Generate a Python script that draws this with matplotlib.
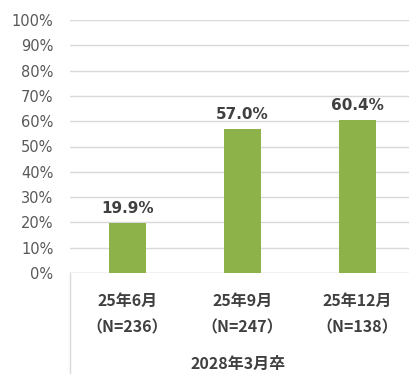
import matplotlib
matplotlib.use("Agg")
import matplotlib.pyplot as plt
from matplotlib.ticker import FuncFormatter
from matplotlib.lines import Line2D

plt.rcParams['font.family'] = ['Noto Sans CJK JP', 'DejaVu Sans']

categories = ["25年6月", "25年9月", "25年12月"]
sample_sizes = ["（N=236）", "（N=247）", "（N=138）"]
group_label = "2028年3月卒"
values = [19.9, 57.0, 60.4]
yticks = [0, 10, 20, 30, 40, 50, 60, 70, 80, 90, 100]

W, H = 409, 374
fig = plt.figure(figsize=(W / 100, H / 100), dpi=100)
left_px, right_px, top_px, bottom_px = 70, 415, 20, 273
ax = fig.add_axes([left_px / W, 1 - bottom_px / H, (right_px - left_px) / W, (bottom_px - top_px) / H])

x = list(range(len(categories)))
bars = ax.bar(x, values, width=0.32, color="#8db24a", zorder=3)
ax.set_xlim(-0.5, 2.5)
ax.set_ylim(0, 100)
ax.set_yticks(yticks)
ax.yaxis.set_major_formatter(FuncFormatter(lambda v, p: f"{int(v)}%"))
ax.tick_params(axis='y', length=0, pad=12, labelsize=10.5, labelcolor="#595959")
for t in ax.get_yticklabels():
    t.set_family(['DejaVu Sans'])
ax.set_xticks([])
ax.grid(axis='y', color="#d9d9d9", linewidth=1, zorder=0)
for s in ax.spines.values():
    s.set_visible(False)
ax.axhline(0, color="#d9d9d9", linewidth=1, zorder=1)

for xi, v in zip(x, values):
    ax.annotate(f"{v:.1f}%", (xi, v), xytext=(0, 5), textcoords="offset points",
                ha="center", va="bottom", fontsize=11, fontweight="bold",
                color="#404040", family=['DejaVu Sans'])

for xi, c, n in zip(x, categories, sample_sizes):
    xf = (left_px + (xi + 0.5) * (right_px - left_px) / 3) / W
    fig.text(xf, 1 - 301 / H, c, ha="center", va="center", fontsize=11.5,
             fontweight="bold", color="#404040")
    fig.text(xf, 1 - 327 / H, n, ha="center", va="center", fontsize=11.5,
             fontweight="bold", color="#404040")

fig.text((left_px + (right_px - left_px) / 2) / W - 0.01, 1 - 364 / H, group_label,
         ha="center", va="center", fontsize=11.5, fontweight="bold", color="#404040")

fig.add_artist(Line2D([left_px / W, left_px / W], [0, 1 - bottom_px / H],
                      color="#d9d9d9", linewidth=1, transform=fig.transFigure))

fig.savefig("out.png", dpi=100)
